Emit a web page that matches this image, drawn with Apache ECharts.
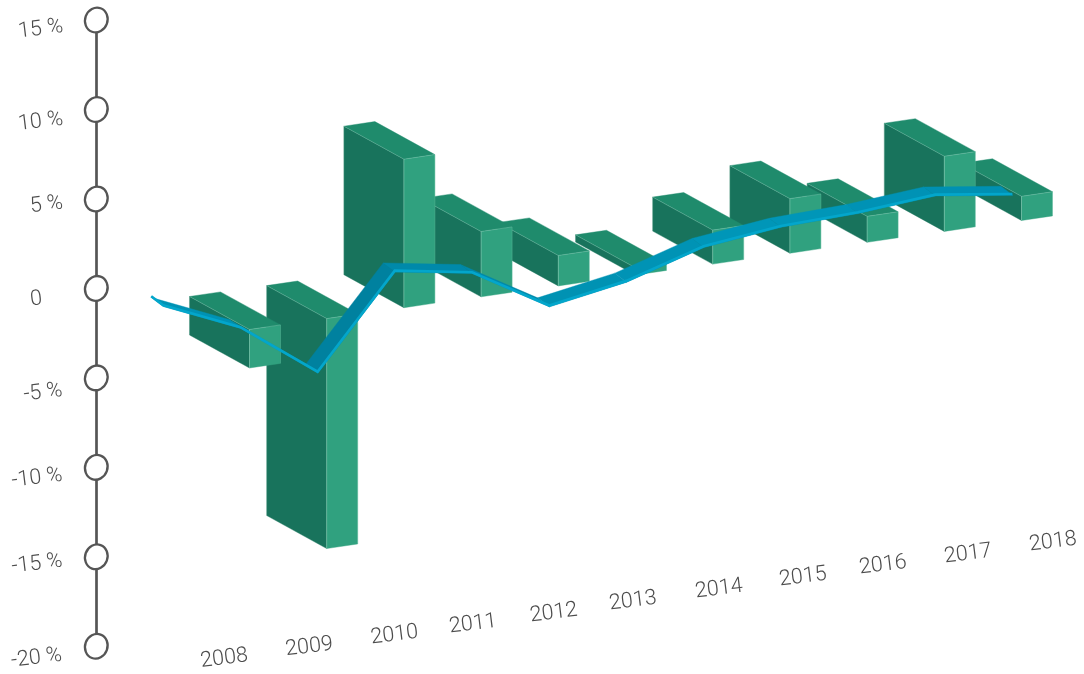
<!DOCTYPE html>
<html>
<head>
<meta charset="utf-8">
<style>html,body{margin:0;padding:0;background:#fff}#c{width:1084px;height:674px}</style>
<script src="https://cdn.jsdelivr.net/npm/echarts@6/dist/echarts.min.js"></script>
</head>
<body>
<div id="c"></div>
<script>
const years = [2008, 2009, 2010, 2011, 2012, 2013, 2014, 2015, 2016, 2017, 2018];
const barValues = [-2.15, -12.85, 8.3, 3.65, 1.7, 0.4, 1.9, 3.05, 1.45, 4.2, 1.35];
const lineYears = [2007, 2008, 2009, 2010, 2011, 2012, 2013, 2014, 2015, 2016, 2017, 2018];
const lineValues = [1.89, 0.06, -3.04, 2.0, 1.3, -1.17, -0.4, 0.93, 1.45, 1.61, 1.98, 1.41];
const tickValues = [15, 10, 5, 0, -5, -10, -15, -20];
const tickLabels = ['15 %', '10 %', '5 %', '0', '-5 %', '-10 %', '-15 %', '-20 %'];

const TEXT = '#4c4c4c';
const FONT = {fontFamily: 'Roboto', fontWeight: 300, fontSize: 21.5, fill: TEXT, align: 'center', verticalAlign: 'middle'};
const TILT = 7 * Math.PI / 180;

// The whole picture is a sheared projection: the zero plane climbs to the right.
const planeDrop = y => 41.1 - 10.9 * (y - 2008);
const project = (api, year, v) => {
  const p = api.coord([year, v]);
  return [p[0], p[1] + planeDrop(year)];
};
const add = (p, dx, dy) => [p[0] + dx, p[1] + dy];

function renderBar(params, api) {
  const year = api.value(0), v = api.value(1);
  const b = project(api, year, Math.max(v, 0));   // front corner, top
  const c = project(api, year, Math.min(v, 0));   // front corner, bottom
  const a = add(b, -60, -33), d = add(c, -60, -33);
  const e = add(b, 31, -4.6), f = add(c, 31, -4.6);
  const g = add(a, 31, -4.6);
  const z2 = 100 - params.dataIndex * 2;
  const poly = (pts, fill) => ({type: 'polygon', z2, shape: {points: pts}, style: {fill, stroke: fill, lineWidth: 0.4}});
  const edge = (p, q, op) => ({type: 'line', z2: z2 + 1, shape: {x1: p[0], y1: p[1], x2: q[0], y2: q[1]},
    style: {stroke: 'rgba(205,238,226,' + op + ')', lineWidth: 0.7}});
  return {type: 'group', children: [
    poly([a, b, c, d], '#18735c'),
    poly([a, g, e, b], '#1f8b6c'),
    poly([b, e, f, c], '#30a17f'),
    edge(a, b, 0.3), edge(b, c, 0.45), edge(b, e, 0.3), edge(a, d, 0.2), edge(e, f, 0.2)
  ]};
}

const RIBBON_X = -8.7, DEPTH_X = -12, DEPTH_Y = -9;
const segColors = ['#0092b4', '#0092b4', '#00819f', '#0089aa', '#0089aa', '#0092b3', '#0093b5', '#0096b8', '#0096b8', '#0092b5', '#0090b2'];
const ribbonPoint = (api, i) => add(project(api, lineYears[i], lineValues[i]), RIBBON_X, 0);

function renderRibbon(params, api) {
  const i = params.dataIndex;
  if (i >= lineYears.length - 1) return null;
  const l0 = ribbonPoint(api, i), l1 = ribbonPoint(api, i + 1);
  return {type: 'polygon', z2: i,
    shape: {points: [add(l0, DEPTH_X, DEPTH_Y), add(l1, DEPTH_X, DEPTH_Y), l1, l0]},
    style: {fill: segColors[i], stroke: segColors[i], lineWidth: 0.4}};
}

function renderStrip(params, api) {
  if (params.dataIndex !== 0) return null;
  const pts = lineYears.map((y, i) => add(ribbonPoint(api, i), -0.4, -1.3));
  pts.unshift(add(pts[0], DEPTH_X, DEPTH_Y));
  return {type: 'polyline', shape: {points: pts},
    style: {fill: null, stroke: '#03a6cb', lineWidth: 2.7, lineJoin: 'miter', lineCap: 'butt'}};
}

function renderTick(params, api) {
  const i = params.dataIndex;
  const p = api.coord([2006.0117, api.value(0)]);
  const labelX = [40.7, 40.7, 46.5, 36.2, 43, 37, 37, 36.5][i];
  const labelDy = [9.3, 12.5, 6, 11, 15, 11, 7.3, 12][i];
  return {type: 'group', children: [
    {type: 'ellipse', z2: 10, x: p[0] + 0.3, y: p[1], rotation: -0.35,
      shape: {cx: 0, cy: 0, rx: 11.2, ry: 12.5},
      style: {fill: '#fff', stroke: '#555', lineWidth: 2.3}},
    {type: 'text', z2: 10, x: labelX, y: p[1] + labelDy, rotation: TILT,
      style: Object.assign({text: tickLabels[i]}, FONT)}
  ]};
}

function renderYear(params, api) {
  const i = params.dataIndex;
  const year = api.value(0);
  const p = project(api, year, 0);
  const dx = [-25.2, -17.4, -9.4, -8.1, -4.5, -2.5, 6.3, 13.1, 15.9, 23.7, 31.5][i];
  const dy = [329.2, 328.5, 327.5, 327.5, 327.3, 326.2, 325.1, 324, 323, 322.8, 321.7][i];
  return {type: 'text', x: p[0] + dx, y: p[1] + dy, rotation: TILT,
    style: Object.assign({text: String(year)}, FONT)};
}

const chart = echarts.init(document.getElementById('c'), null, {renderer: 'canvas'});
chart.setOption({
  animation: false,
  backgroundColor: '#ffffff',
  tooltip: {show: false},
  grid: {left: 96, top: 20, width: 988, height: 626.3, containLabel: false},
  // horizontal scale in years: 77.2 px per year
  xAxis: {type: 'value', min: 2006.0117, max: 2018.8096, show: false, splitLine: {show: false}},
  yAxis: {type: 'value', min: -20, max: 15, interval: 5,
    axisLine: {show: true, onZero: false, lineStyle: {color: '#555', width: 2.7}},
    axisTick: {show: false}, axisLabel: {show: false}, splitLine: {show: false}},
  series: [
    {type: 'custom', name: 'Bars', z: 2, clip: false, renderItem: renderBar,
      encode: {x: 0, y: 1}, data: years.map((y, i) => [y, barValues[i]])},
    {type: 'custom', name: 'Ribbon', z: 3, clip: false, renderItem: renderRibbon,
      encode: {x: 0, y: 1}, data: lineYears.map((y, i) => [y, lineValues[i]])},
    {type: 'custom', name: 'RibbonEdge', z: 4, clip: false, renderItem: renderStrip,
      encode: {x: 0, y: 1}, data: lineYears.map((y, i) => [y, lineValues[i]])},
    {type: 'custom', name: 'Ticks', z: 5, clip: false, renderItem: renderTick,
      encode: {y: 0}, data: tickValues.map(v => [v])},
    {type: 'custom', name: 'Years', z: 5, clip: false, renderItem: renderYear,
      encode: {x: 0}, data: years.map(y => [y])}
  ]
});
</script>
</body>
</html>
